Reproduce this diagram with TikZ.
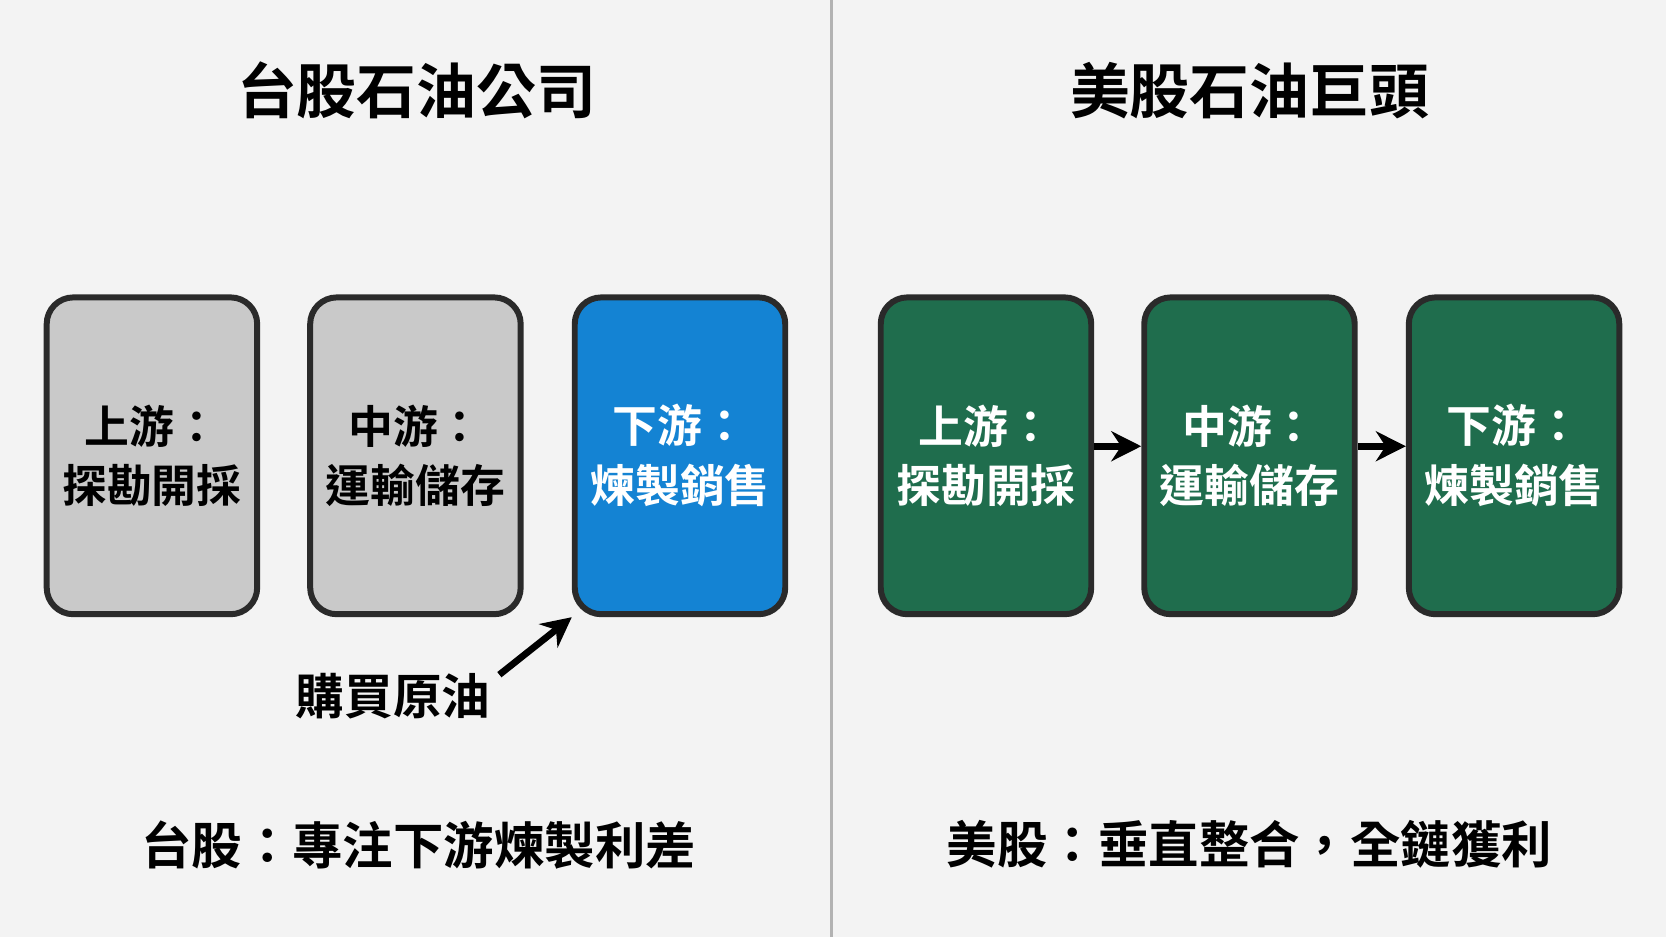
\documentclass[tikz,border=0pt]{standalone}
\usepackage{fontspec}
\setmainfont{Noto Sans CJK TC}[BoldFont={* Bold}]
\usepackage{tikz}
\usetikzlibrary{arrows.meta}
\definecolor{bg}{HTML}{F3F3F3}
\definecolor{grayfill}{HTML}{C9C9C9}
\definecolor{bluefill}{HTML}{1483D3}
\definecolor{greenfill}{HTML}{1F6D4D}
\definecolor{edge}{HTML}{2A2A2A}
\begin{document}
\begin{tikzpicture}[x=0.01cm,y=-0.01cm]
		\tikzset{stage/.style={draw=edge, line width=1.6pt, rounded corners=0.25cm,
				minimum width=1.98cm, minimum height=2.98cm, align=center,
				font=\fontsize{12pt}{16pt}\selectfont\bfseries}}
		\tikzset{link/.style={-{Stealth[length=8pt,width=8pt]}, line width=1.8pt, black}}
		%frame
		\fill[bg] (0,0) rectangle (1568,882);
		\useasboundingbox (0,0) rectangle (1568,882);
		\draw[gray!60, line width=0.8pt] (783,0) -- (783,882);
		%titles
		\node[font=\fontsize{16pt}{20pt}\selectfont\bfseries] (tw) at (392,85) {台股石油公司};
		\node[font=\fontsize{16pt}{20pt}\selectfont\bfseries] (us) at (1176,85) {美股石油巨頭};
		%left stages
		\node[stage, fill=grayfill] (up1) at (143,429) {上游：\\探勘開採};
		\node[stage, fill=grayfill] (mid1) at (391,429) {中游：\\運輸儲存};
		\node[stage, fill=bluefill, text=white] (down1) at (640,429) {下游：\\煉製銷售};
		%right stages
		\node[stage, fill=greenfill, text=white] (up2) at (928,429) {上游：\\探勘開採};
		\node[stage, fill=greenfill, text=white] (mid2) at (1176,429) {中游：\\運輸儲存};
		\node[stage, fill=greenfill, text=white] (down2) at (1425,429) {下游：\\煉製銷售};
		%buy crude
		\node[font=\fontsize{13pt}{16pt}\selectfont\bfseries] (buy) at (370,655) {購買原油};
		\coordinate (buyend) at (470,635);
		\draw[link] (buyend) -- (down1.south west);
		\draw[link] (up2.east |- 0,420) -- (mid2.west |- 0,420);
		\draw[link] (mid2.east |- 0,420) -- (down2.west |- 0,420);
		%summaries
		\node[font=\fontsize{13.5pt}{17pt}\selectfont\bfseries] (sumtw) at (394,795) {台股：專注下游煉製利差};
		\node[font=\fontsize{13.5pt}{17pt}\selectfont\bfseries] (sumus) at (1176,795) {美股：垂直整合，全鏈獲利};
\end{tikzpicture}
\end{document}
